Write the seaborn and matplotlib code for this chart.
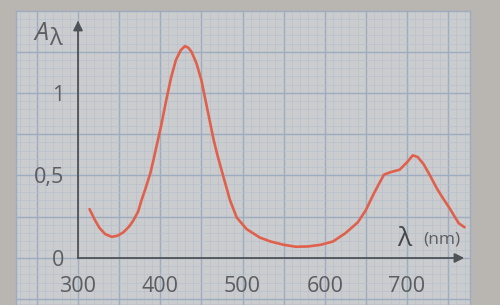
import matplotlib
matplotlib.use("Agg")
import matplotlib.pyplot as plt
from matplotlib.ticker import MultipleLocator
import seaborn as sns
import pandas as pd

# ---- data ----
wavelength_nm = [314, 320, 326, 333, 341, 348, 355, 362, 367, 373, 377, 382, 388, 392,
                 396, 401, 407, 413, 419, 425, 430, 434, 438, 444, 450, 455, 460, 465,
                 469, 477, 485, 493, 505, 521, 534, 550, 565, 580, 595, 610, 625, 640,
                 650, 659, 666, 672, 680, 691, 700, 707, 713, 720, 728, 736, 744, 752,
                 758, 763, 770]
absorbance = [0.296, 0.235, 0.183, 0.145, 0.128, 0.135, 0.155, 0.19, 0.225, 0.28, 0.347,
              0.42, 0.515, 0.60, 0.69, 0.80, 0.95, 1.09, 1.20, 1.26, 1.284, 1.275,
              1.25, 1.18, 1.078, 0.956, 0.835, 0.714, 0.633, 0.488, 0.347, 0.245, 0.175,
              0.124, 0.10, 0.08, 0.068, 0.07, 0.08, 0.10, 0.15, 0.215, 0.29, 0.384, 0.45,
              0.505, 0.52, 0.535, 0.58, 0.622, 0.612, 0.57, 0.5, 0.424, 0.36, 0.3, 0.25,
              0.21, 0.186]
x_ticks = [300, 400, 500, 600, 700]
x_tick_labels = ["300", "400", "500", "600", "700"]
y_ticks = [0, 0.5, 1]
y_tick_labels = ["0", "0,5", "1"]

df = pd.DataFrame({"nm": wavelength_nm, "A": absorbance})

sns.set_style("white")
plt.rcParams["font.family"] = ["Open Sans", "DejaVu Sans"]

FIG_BG = "#b9b5b0"
PAPER = "#cbcccd"
MAJOR = "#9dadc1"
MINOR = "#b8c1cd"
AXIS = "#4e5358"
TEXT = "#5c5d61"
CURVE = "#e0604c"

fig = plt.figure(figsize=(5, 3.05), dpi=100, facecolor=FIG_BG)
pos = [16 / 500, 0, (470 - 16) / 500, 1 - 11 / 305]
xlim = (224.6, 776.6)
ylim = (-0.285, 1.497)

# grid paper
axg = fig.add_axes(pos)
axg.set_xlim(*xlim)
axg.set_ylim(*ylim)
axg.set_facecolor(PAPER)
axg.xaxis.set_major_locator(MultipleLocator(50))
axg.xaxis.set_minor_locator(MultipleLocator(10))
axg.yaxis.set_major_locator(MultipleLocator(0.25))
axg.yaxis.set_minor_locator(MultipleLocator(0.05))
axg.grid(which="minor", color=MINOR, lw=0.5)
axg.grid(which="major", color=MAJOR, lw=1.0)
axg.tick_params(which="both", length=0, labelbottom=False, labelleft=False)
for s in axg.spines.values():
    s.set_color(MAJOR)
    s.set_linewidth(1.0)

# main axes
ax = fig.add_axes(pos)
ax.set_xlim(*xlim)
ax.set_ylim(*ylim)
ax.patch.set_alpha(0)
sns.lineplot(data=df, x="nm", y="A", ax=ax, color=CURVE, lw=1.9, sort=False)
ax.lines[-1].set_solid_joinstyle("round")
ax.lines[-1].set_solid_capstyle("round")
ax.set_xlabel("")
ax.set_ylabel("")

ax.spines["top"].set_visible(False)
ax.spines["right"].set_visible(False)
ax.spines["left"].set_position(("data", 300))
ax.spines["bottom"].set_position(("data", 0))
ax.spines["left"].set_bounds(0, 1.42)
ax.spines["bottom"].set_bounds(300, 762)
for s in ("left", "bottom"):
    ax.spines[s].set_color(AXIS)
    ax.spines[s].set_linewidth(1.3)

ax.set_xticks(x_ticks, labels=x_tick_labels)
ax.set_yticks(y_ticks, labels=y_tick_labels)
ax.tick_params(axis="x", direction="out", length=5, width=1.2, color=AXIS,
               labelsize=15.5, labelcolor=TEXT, pad=8)
ax.tick_params(axis="y", direction="out", length=5, width=1.2, color=AXIS,
               labelsize=15.5, labelcolor=TEXT, pad=5)

# arrow heads
ax.annotate("", xy=(300, 1.455), xytext=(300, 1.40),
            arrowprops=dict(arrowstyle="-|>", color=AXIS, lw=1.3, mutation_scale=14))
ax.annotate("", xy=(773, 0), xytext=(755, 0),
            arrowprops=dict(arrowstyle="-|>", color=AXIS, lw=1.3, mutation_scale=14))

# axis labels
ax.text(255, 1.36, "A", fontsize=18, style="italic", color=TEXT, ha="center", va="center")
ax.text(272, 1.33, "λ", fontsize=17, color=TEXT, ha="center", va="center")
ax.text(697, 0.115, "λ", fontsize=19, color="#45474b", ha="center", va="center")
ax.text(742, 0.115, "(nm)", fontsize=12.5, color=TEXT, ha="center", va="center")

fig.savefig("out.png", dpi=100, facecolor=FIG_BG)
